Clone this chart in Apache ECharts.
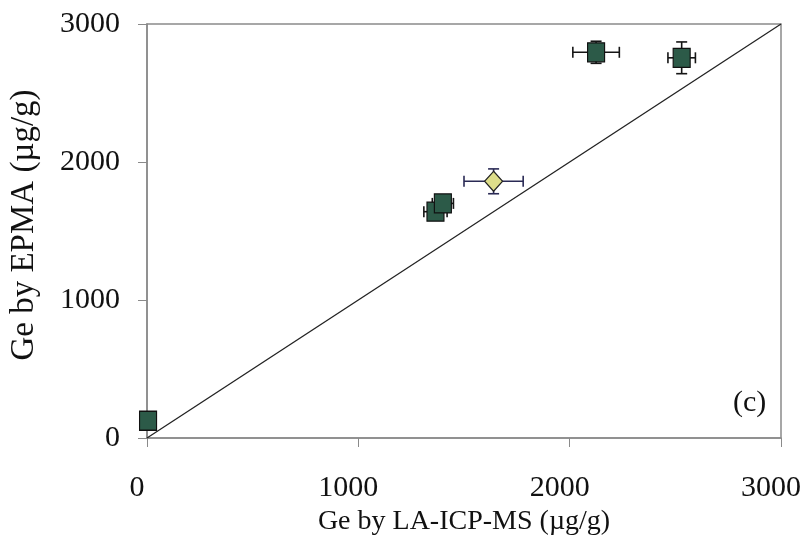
<!DOCTYPE html>
<html>
<head>
<meta charset="UTF-8">
<title>Ge EPMA vs LA-ICP-MS</title>
<script src="https://cdn.jsdelivr.net/npm/echarts@6/dist/echarts.min.js"></script>
<style>body{margin:0;background:#fff;}</style>
</head>
<body>
<div id="container" style="width:807px;height:547px;"></div>
<script>
// squares: Ge by LA-ICP-MS (x) vs Ge by EPMA (y), with errors
var sqX = [5, 1365, 1400, 2125, 2530];
var sqY = [125, 1640, 1700, 2795, 2755];
var sqXErr = [0, 55, 50, 110, 65];
var sqYErr = [0, 60, 60, 80, 115];
// diamond
var dmX = [1640];
var dmY = [1860];
var dmXErr = [140];
var dmYErr = [90];
// 1:1 line
var lineX = [0, 3000];
var lineY = [0, 3000];

var fontName = '"Liberation Serif", "DejaVu Serif", serif';

function rows(xs, ys, ex, ey) {
    var out = [];
    for (var i = 0; i < xs.length; i++) out.push([xs[i], ys[i], ex[i], ey[i]]);
    return out;
}

function errBars(color) {
    return function (params, api) {
        var x = api.value(0), y = api.value(1), ex = api.value(2), ey = api.value(3);
        var c = 5.5, kids = [];
        var st = { stroke: color, lineWidth: 1.6 };
        if (ex > 0) {
            var l = api.coord([x - ex, y]), r = api.coord([x + ex, y]);
            kids.push({ type: 'line', shape: { x1: l[0], y1: l[1], x2: r[0], y2: r[1] }, style: st });
            kids.push({ type: 'line', shape: { x1: l[0], y1: l[1] - c, x2: l[0], y2: l[1] + c }, style: st });
            kids.push({ type: 'line', shape: { x1: r[0], y1: r[1] - c, x2: r[0], y2: r[1] + c }, style: st });
        }
        if (ey > 0) {
            var t = api.coord([x, y + ey]), b = api.coord([x, y - ey]);
            kids.push({ type: 'line', shape: { x1: t[0], y1: t[1], x2: b[0], y2: b[1] }, style: st });
            kids.push({ type: 'line', shape: { x1: t[0] - c, y1: t[1], x2: t[0] + c, y2: t[1] }, style: st });
            kids.push({ type: 'line', shape: { x1: b[0] - c, y1: b[1], x2: b[0] + c, y2: b[1] }, style: st });
        }
        return { type: 'group', children: kids };
    };
}

var mychart = echarts.init(document.getElementById('container'));
var axisCommon = {
    type: 'value', min: 0, max: 3000, interval: 1000,
    axisLine: { show: true, lineStyle: { color: '#8a8a8a', width: 1.5 } },
    axisTick: { show: true, inside: false, length: 9, lineStyle: { color: '#8a8a8a' } },
    splitLine: { show: false },
    nameLocation: 'middle',
    axisLabel: { fontFamily: fontName, fontSize: 30, color: '#111', formatter: function (v) { return String(v); } }
};
var option = {
    animation: false,
    backgroundColor: '#fff',
    grid: { left: 147, right: 26, top: 24, bottom: 109, show: true, borderColor: '#8a8a8a', borderWidth: 1.5 },
    xAxis: Object.assign({}, axisCommon, {
        name: 'Ge by LA-ICP-MS (µg/g)', nameGap: 64,
        nameTextStyle: { fontFamily: fontName, fontSize: 28, color: '#111' },
        axisLabel: Object.assign({}, axisCommon.axisLabel, { margin: 35, padding: [0, 20, 0, 0] })
    }),
    yAxis: Object.assign({}, axisCommon, {
        name: 'Ge by EPMA (µg/g)', nameGap: 106,
        nameTextStyle: { fontFamily: fontName, fontSize: 33, color: '#111', padding: [0, 0, 0, 12] },
        axisLabel: Object.assign({}, axisCommon.axisLabel, { margin: 27 })
    }),
    graphic: [{
        type: 'text', left: 733, top: 388,
        style: { text: '(c)', font: '30px ' + fontName, fill: '#111' }
    }],
    series: [
        {
            type: 'line', data: lineX.map(function (v, i) { return [v, lineY[i]]; }),
            symbol: 'none', lineStyle: { color: '#222', width: 1.3 }, z: 1
        },
        {
            type: 'custom', renderItem: errBars('#151515'),
            data: rows(sqX, sqY, sqXErr, sqYErr), z: 2
        },
        {
            type: 'custom', renderItem: errBars('#2a2a55'),
            data: rows(dmX, dmY, dmXErr, dmYErr), z: 2
        },
        {
            type: 'scatter', symbol: 'rect', symbolSize: [17, 19],
            data: sqX.map(function (v, i) { return [v, sqY[i]]; }),
            itemStyle: { color: '#2c5a48', borderColor: '#111', borderWidth: 1.2, opacity: 1 }, z: 3
        },
        {
            type: 'scatter', symbol: 'diamond', symbolSize: [18, 20],
            data: dmX.map(function (v, i) { return [v, dmY[i]]; }),
            itemStyle: { color: '#dede8a', borderColor: '#222', borderWidth: 1.2, opacity: 1 }, z: 3
        }
    ]
};
mychart.setOption(option);
</script>
</body>
</html>
